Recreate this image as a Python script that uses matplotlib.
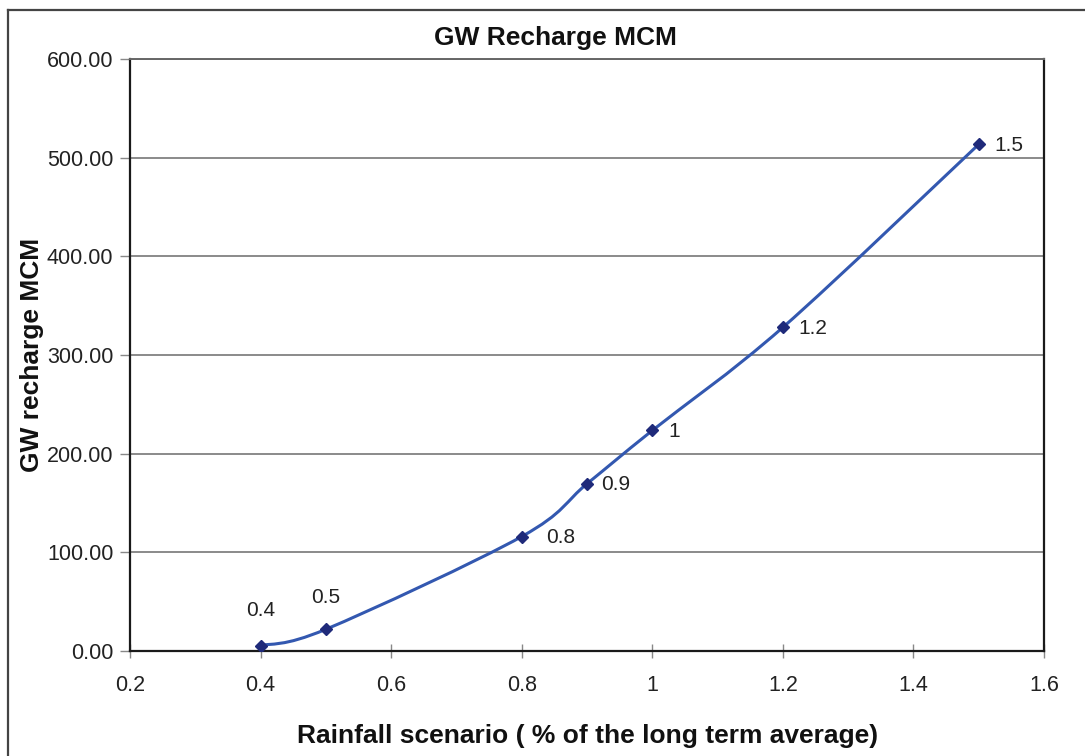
import matplotlib.pyplot as plt
from matplotlib.path import Path
from matplotlib.patches import PathPatch
from matplotlib.lines import Line2D
from matplotlib.ticker import FormatStrFormatter

plt.rcParams['font.family'] = ['Liberation Sans', 'DejaVu Sans']

# Data
rainfall = [0.4, 0.5, 0.8, 0.9, 1.0, 1.2, 1.5]
recharge = [5.5, 22.0, 116.0, 169.5, 223.5, 328.0, 513.5]
point_labels = ["0.4", "0.5", "0.8", "0.9", "1", "1.2", "1.5"]

fig = plt.figure(figsize=(10.85, 7.56), dpi=100)
ax = fig.add_axes([130 / 1085, 105 / 756, 914 / 1085, 592 / 756])

# Excel-style smoothed line as cubic Bezier segments
n = len(rainfall)
pts = list(zip(rainfall, recharge))
verts = [pts[0]]
codes = [Path.MOVETO]
for i in range(n - 1):
    p0 = pts[max(i - 1, 0)]
    p1, p2 = pts[i], pts[i + 1]
    p3 = pts[min(i + 2, n - 1)]
    c1 = (p1[0] + (p2[0] - p0[0]) / 6, p1[1] + (p2[1] - p0[1]) / 6)
    c2 = (p2[0] - (p3[0] - p1[0]) / 6, p2[1] - (p3[1] - p1[1]) / 6)
    verts += [c1, c2, p2]
    codes += [Path.CURVE4] * 3
ax.add_patch(PathPatch(Path(verts, codes), facecolor='none',
                       edgecolor='#3358b0', lw=2.2, zorder=3))
ax.plot(rainfall, recharge, linestyle='none', marker='D', ms=6.5,
        color='#1f2a7a', zorder=4)

# point labels
offsets = {"0.4": (0, 35, 'center'), "0.5": (0, 32, 'center'),
           "0.8": (24, -1, 'left'), "0.9": (14, -1, 'left')}
for x, y, lab in zip(rainfall, recharge, point_labels):
    dx, dy, ha = offsets.get(lab, (16, -1, 'left'))
    ax.annotate(lab, (x, y), xytext=(dx, dy), textcoords='offset pixels',
                ha=ha, va='center', fontsize=15, color='#222222')

ax.set_xlim(0.2, 1.6)
ax.set_ylim(0, 600)
ax.set_xticks([0.2, 0.4, 0.6, 0.8, 1.0, 1.2, 1.4, 1.6])
ax.set_xticklabels(["0.2", "0.4", "0.6", "0.8", "1", "1.2", "1.4", "1.6"])
ax.set_yticks(range(0, 601, 100))
ax.yaxis.set_major_formatter(FormatStrFormatter('%.2f'))
ax.grid(axis='y', color='#777777', lw=1.2)
ax.set_axisbelow(True)

for s in ['left', 'bottom', 'right']:
    ax.spines[s].set_color('#1a1a1a')
    ax.spines[s].set_linewidth(1.6)
ax.spines['top'].set_color('#666666')
ax.spines['top'].set_linewidth(1.4)

ax.tick_params(axis='y', direction='out', length=7, width=1, color='#888888',
               labelsize=15.5, pad=5, labelcolor='#222222')
ax.tick_params(axis='x', direction='inout', length=10, width=1, color='#888888',
               labelsize=15.5, pad=12, labelcolor='#222222')

fig.text(555 / 1085, 1 - 38 / 756, "GW Recharge MCM", fontsize=19,
         fontweight='bold', ha='center', va='center', color='#111111')
ax.set_xlabel("Rainfall scenario ( % of the long term average)", fontsize=19,
              fontweight='bold', color='#111111')
ax.xaxis.set_label_coords(588 / 1085, 20 / 756, transform=fig.transFigure)
ax.set_ylabel("GW recharge MCM", fontsize=19, fontweight='bold', color='#111111')
ax.yaxis.set_label_coords(32 / 1085, 1 - 355 / 756, transform=fig.transFigure)
ax.xaxis.label.set_va('center')
ax.yaxis.label.set_va('center')

# outer chart frame (only left and top edges visible)
fig.add_artist(Line2D([8 / 1085, 8 / 1085], [0, 1 - 10 / 756],
                      transform=fig.transFigure, color='#444444', lw=1.6))
fig.add_artist(Line2D([8 / 1085, 1], [1 - 10 / 756, 1 - 10 / 756],
                      transform=fig.transFigure, color='#444444', lw=1.6))

fig.savefig("out.png", dpi=100)
